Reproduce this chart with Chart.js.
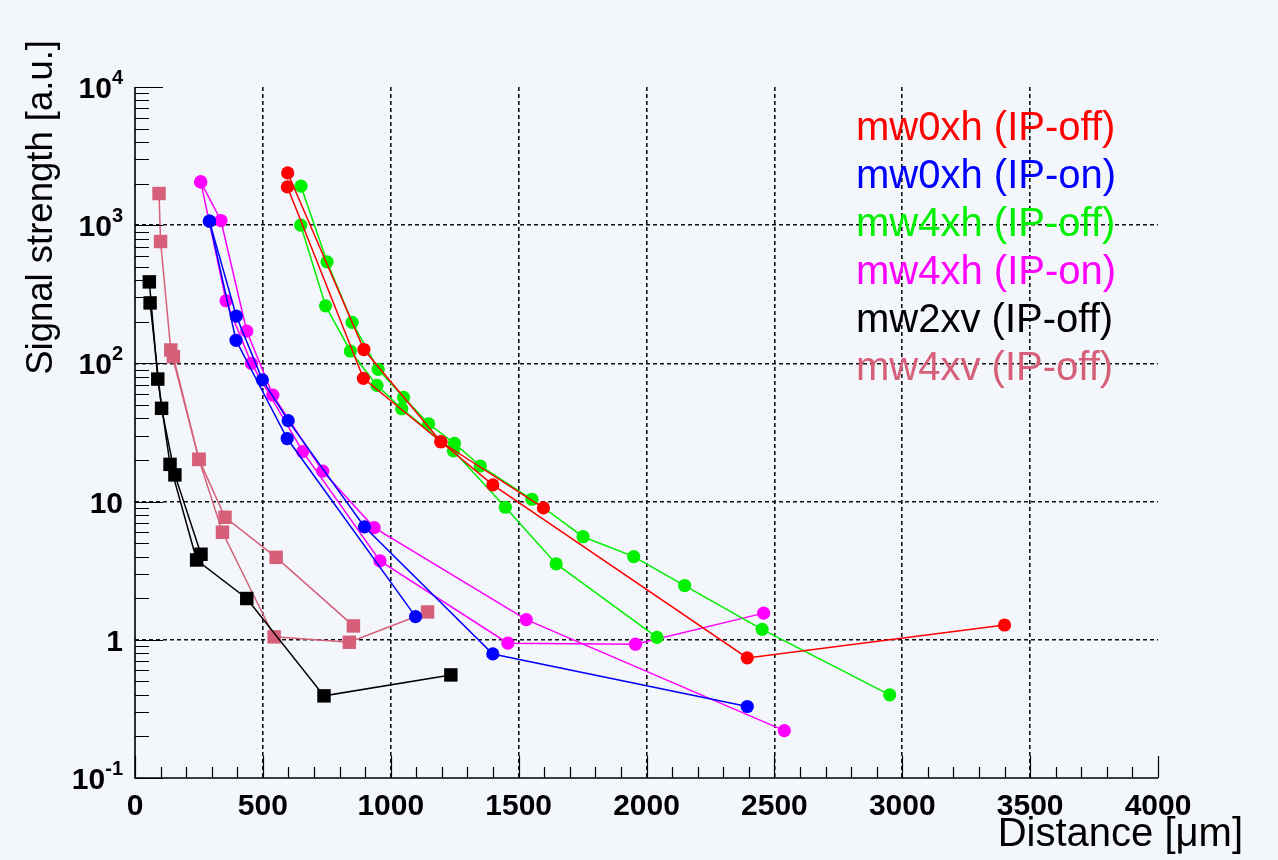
<!DOCTYPE html>
<html>
<head>
<meta charset="utf-8">
<script src="https://cdn.jsdelivr.net/npm/chart.js@4.4.0/dist/chart.umd.min.js"></script>
<style>
  html, body { margin: 0; padding: 0; background: #f3f6fa; }
  canvas { display: block; }
</style>
</head>
<body>
<canvas id="signalChart" width="1278" height="860"></canvas>
<script>
// Distance [um] and signal [a.u.]; each setup was measured in two sweeps
const mw0xhOffX_a = [597, 895, 1196, 1399, 2394, 3400];
const mw0xhOffY_a = [2388, 126, 27.1, 13.2, 0.74, 1.28];
const mw0xhOffX_b = [596, 893, 1196, 1597];
const mw0xhOffY_b = [1892, 78, 27.1, 9.0];

const mw0xhOnX_a = [291, 396, 498, 599, 897, 1399, 2394];
const mw0xhOnY_a = [1069, 220, 76, 38.5, 6.57, 0.79, 0.329];
const mw0xhOnX_b = [291, 395, 595, 1097];
const mw0xhOnY_b = [1069, 147, 28.6, 1.47];

const mw4xhOffX_a = [649, 751, 849, 951, 1050, 1148, 1249, 1350, 1552, 1752, 1950, 2149, 2452, 2951];
const mw4xhOffY_a = [1915, 543, 198, 90.5, 56.8, 36.6, 26.4, 18.1, 10.4, 5.57, 4.0, 2.47, 1.19, 0.40];
const mw4xhOffX_b = [648, 745, 842, 946, 1043, 1245, 1448, 1647, 2041];
const mw4xhOffY_b = [1000, 261, 123, 69.3, 47, 23.3, 9.1, 3.54, 1.04];

const mw4xhOnX_a = [257, 336, 437, 539, 734, 935, 1530, 2539];
const mw4xhOnY_a = [2056, 1081, 171, 59, 16.6, 6.49, 1.40, 0.220];
const mw4xhOnX_b = [257, 356, 455, 656, 958, 1458, 1957, 2458];
const mw4xhOnY_b = [2056, 284, 100, 23, 3.72, 0.946, 0.929, 1.56];

const mw2xvOffX_a = [56, 89, 137, 241, 437, 739, 1235];
const mw2xvOffY_a = [389, 77, 18.6, 3.78, 1.99, 0.393, 0.557];
const mw2xvOffX_b = [59, 104, 156, 258];
const mw2xvOffY_b = [274, 47.3, 15.6, 4.16];

const mw4xvOffX_a = [94, 100, 140, 250, 352, 552, 854];
const mw4xvOffY_a = [1695, 762, 125, 20.2, 7.7, 3.95, 1.26];
const mw4xvOffX_b = [150, 250, 342, 544, 838, 1144];
const mw4xvOffY_b = [112, 20.2, 6.0, 1.05, 0.96, 1.59];

const legendLabels = ["mw0xh (IP-off)", "mw0xh (IP-on)", "mw4xh (IP-off)", "mw4xh (IP-on)", "mw2xv (IP-off)", "mw4xv (IP-off)"];
const seriesColors = ["#ff0000", "#0000ff", "#00f000", "#ff00ff", "#000000", "#d6607a"];

const xTicks = [0, 500, 1000, 1500, 2000, 2500, 3000, 3500, 4000];
const yTicks = [0.1, 1, 10, 100, 1000, 10000];
const yTickLabels = [["10", "-1"], ["1", ""], ["10", ""], ["10", "2"], ["10", "3"], ["10", "4"]];

const toPoints = (xs, ys) => xs.map((x, i) => ({ x: x, y: ys[i] }));

const makeSet = (xs, ys, idx, shape) => ({
  label: legendLabels[idx],
  data: toPoints(xs, ys),
  showLine: true,
  borderColor: seriesColors[idx],
  backgroundColor: seriesColors[idx],
  borderWidth: 1.5,
  pointStyle: shape,
  pointRadius: shape === "rect" ? 9.5 : 6.6,
  pointBorderWidth: 0,
});

const datasets = [
  makeSet(mw0xhOffX_a, mw0xhOffY_a, 0, "circle"),
  makeSet(mw0xhOffX_b, mw0xhOffY_b, 0, "circle"),
  makeSet(mw0xhOnX_a, mw0xhOnY_a, 1, "circle"),
  makeSet(mw0xhOnX_b, mw0xhOnY_b, 1, "circle"),
  makeSet(mw4xhOffX_a, mw4xhOffY_a, 2, "circle"),
  makeSet(mw4xhOffX_b, mw4xhOffY_b, 2, "circle"),
  makeSet(mw4xhOnX_a, mw4xhOnY_a, 3, "circle"),
  makeSet(mw4xhOnX_b, mw4xhOnY_b, 3, "circle"),
  makeSet(mw2xvOffX_a, mw2xvOffY_a, 4, "rect"),
  makeSet(mw2xvOffX_b, mw2xvOffY_b, 4, "rect"),
  makeSet(mw4xvOffX_a, mw4xvOffY_a, 5, "rect"),
  makeSet(mw4xvOffX_b, mw4xvOffY_b, 5, "rect"),
];

const FONT = '"Liberation Sans", Arial, Helvetica, sans-serif';

// background fill
const bgPlugin = {
  id: "bg",
  beforeDraw(chart) {
    const ctx = chart.ctx;
    ctx.save();
    ctx.fillStyle = "#f3f6fa";
    ctx.fillRect(0, 0, chart.width, chart.height);
    ctx.restore();
  },
};

// axis lines, inside ticks, tick labels, titles and the text legend
const framePlugin = {
  id: "frame",
  afterDraw(chart) {
    const ctx = chart.ctx;
    const a = chart.chartArea;
    const xs = chart.scales.x;
    const ys = chart.scales.y;
    ctx.save();

    ctx.strokeStyle = "#000";
    ctx.lineWidth = 1.6;
    ctx.beginPath();
    ctx.moveTo(a.left, a.top);
    ctx.lineTo(a.left, a.bottom);
    ctx.lineTo(a.right, a.bottom);
    ctx.stroke();

    // y ticks (log, 1..9 per decade)
    ctx.lineWidth = 1.2;
    ctx.beginPath();
    for (let k = -1; k <= 3; k++) {
      for (let m = 1; m <= 9; m++) {
        const v = m * Math.pow(10, k);
        const py = Math.round(ys.getPixelForValue(v)) + 0.5;
        const len = m === 1 ? 28 : 14;
        ctx.moveTo(a.left, py);
        ctx.lineTo(a.left + len, py);
      }
    }
    const pTop = Math.round(ys.getPixelForValue(10000)) + 0.5;
    ctx.moveTo(a.left, pTop);
    ctx.lineTo(a.left + 28, pTop);
    // x ticks
    for (let v = 0; v <= 4000; v += 100) {
      const px = Math.round(xs.getPixelForValue(v)) + 0.5;
      const len = v % 500 === 0 ? 22 : 11;
      ctx.moveTo(px, a.bottom);
      ctx.lineTo(px, a.bottom - len);
    }
    ctx.stroke();

    // y tick labels
    ctx.fillStyle = "#000";
    ctx.textBaseline = "alphabetic";
    ctx.textAlign = "left";
    yTicks.forEach((v, i) => {
      const py = ys.getPixelForValue(v);
      const base = yTickLabels[i][0];
      const sup = yTickLabels[i][1];
      ctx.font = "bold 30px " + FONT;
      const wb = ctx.measureText(base).width;
      ctx.font = "bold 20px " + FONT;
      const ws = sup ? ctx.measureText(sup).width : 0;
      const right = a.left - 12;
      const x0 = right - wb - ws;
      ctx.font = "bold 30px " + FONT;
      ctx.fillText(base, x0, py + 11);
      if (sup) {
        ctx.font = "bold 20px " + FONT;
        ctx.fillText(sup, x0 + wb, py - 3);
      }
    });

    // x tick labels
    ctx.font = "bold 30px " + FONT;
    ctx.textAlign = "center";
    xTicks.forEach((v) => {
      const px = xs.getPixelForValue(v);
      ctx.fillText(String(v), px, a.bottom + 37);
    });

    // axis titles
    ctx.font = "40px " + FONT;
    ctx.textAlign = "right";
    ctx.fillText("Distance [\u03bcm]", 1243, 846);

    ctx.save();
    ctx.translate(52, 40);
    ctx.rotate(-Math.PI / 2);
    ctx.font = "36.5px " + FONT;
    ctx.textAlign = "right";
    ctx.fillText("Signal strength [a.u.]", 0, 0);
    ctx.restore();

    // legend as coloured text
    ctx.font = "40px " + FONT;
    ctx.textAlign = "left";
    legendLabels.forEach((t, i) => {
      ctx.fillStyle = seriesColors[i];
      ctx.fillText(t, 856, 140 + i * 48);
    });

    ctx.restore();
  },
};

const edgeless = (edges) => (c) => edges.includes(c.tick.value) ? "rgba(0,0,0,0)" : "#111111";

const signalChart = new Chart(document.getElementById("signalChart").getContext("2d"), {
  type: "scatter",
  data: { datasets: datasets },
  options: {
    responsive: false,
    animation: false,
    layout: { padding: { top: 87, right: 120, left: 0, bottom: 0 } },
    plugins: {
      legend: { display: false },
      tooltip: { enabled: false },
    },
    scales: {
      x: {
        type: "linear",
        min: 0,
        max: 4000,
        afterBuildTicks: (s) => { s.ticks = xTicks.map((v) => ({ value: v })); },
        ticks: { display: false },
        grid: { color: edgeless([0, 4000]), lineWidth: 1.6, drawTicks: false },
        border: { display: false, dash: [4, 3] },
        afterFit: (s) => { s.height = 82; },
      },
      y: {
        type: "logarithmic",
        min: 0.1,
        max: 10000,
        afterBuildTicks: (s) => { s.ticks = yTicks.map((v) => ({ value: v })); },
        ticks: { display: false },
        grid: { color: edgeless([0.1, 10000]), lineWidth: 1.6, drawTicks: false },
        border: { display: false, dash: [4, 3] },
        afterFit: (s) => { s.width = 135; },
      },
    },
  },
  plugins: [bgPlugin, framePlugin],
});
</script>
</body>
</html>
